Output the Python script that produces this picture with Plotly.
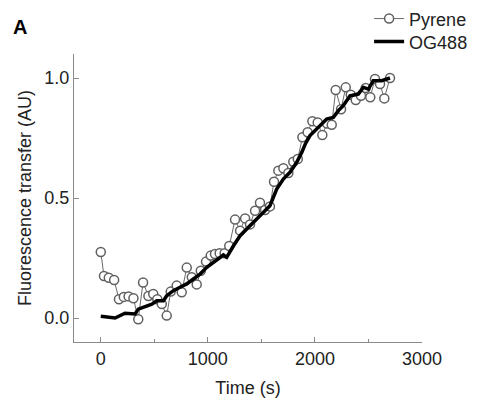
import plotly.graph_objects as go

# Pyrene (open circles with thin connecting line)
pyrene_t = [0, 30, 75, 125, 170, 215, 260, 305, 350, 395, 445, 490, 528, 570, 616, 653, 709, 756,
            803, 850, 896, 934, 983, 1027, 1067, 1110, 1157, 1200, 1254, 1301, 1348, 1394, 1441,
            1487, 1534, 1580, 1618, 1658, 1705, 1752, 1798, 1840, 1883, 1932, 1976, 2026, 2069,
            2113, 2157, 2194, 2244, 2288, 2335, 2381, 2430, 2474, 2517, 2561, 2608, 2648, 2701]
pyrene_v = [0.275, 0.175, 0.168, 0.158, 0.078, 0.088, 0.09, 0.082, -0.005, 0.148, 0.092, 0.1,
            0.078, 0.058, 0.01, 0.11, 0.135, 0.107, 0.21, 0.17, 0.14, 0.197, 0.235, 0.26, 0.267,
            0.27, 0.27, 0.30, 0.41, 0.364, 0.415, 0.39, 0.447, 0.48, 0.45, 0.465, 0.568, 0.614,
            0.624, 0.604, 0.651, 0.6625, 0.753, 0.774, 0.82, 0.815, 0.7625, 0.81, 0.805, 0.95,
            0.87, 0.961, 0.93, 0.908, 0.926, 0.958, 0.92, 0.996, 0.975, 0.915, 1.0]

# OG488 (thick black line)
og_t = [0, 87, 134, 226, 320, 350, 430, 477, 523, 585, 616, 678, 740, 803, 865, 927, 990, 1051,
        1114, 1145, 1176, 1207, 1238, 1301, 1394, 1487, 1580, 1643, 1705, 1767, 1830, 1877, 1910,
        1954, 2001, 2047, 2110, 2172, 2219, 2265, 2328, 2405, 2452, 2499, 2545, 2623, 2660, 2701]
og_v = [0.007, 0.003, 0.0, 0.02, 0.017, 0.037, 0.05, 0.058, 0.072, 0.072, 0.093, 0.114, 0.128,
        0.142, 0.1625, 0.183, 0.211, 0.232, 0.253, 0.2625, 0.253, 0.28, 0.30, 0.343, 0.385,
        0.426, 0.468, 0.5375, 0.579, 0.607, 0.649, 0.69, 0.725, 0.76, 0.78, 0.8, 0.829, 0.836,
        0.864, 0.885, 0.926, 0.933, 0.961, 0.954, 0.989, 0.989, 0.996, 1.0]

x_ticks = [0, 1000, 2000, 3000]
y_ticks = [0.0, 0.5, 1.0]
y_tick_labels = ["0.0", "0.5", "1.0"]

FONT = "Arial, Liberation Sans, sans-serif"
AXIS_COLOR = "#8a8a8a"
TEXT_COLOR = "#222222"

fig = go.Figure()
fig.add_trace(go.Scatter(
    x=pyrene_t, y=pyrene_v, name="Pyrene", mode="lines+markers",
    line=dict(color="#6a6a6a", width=1),
    marker=dict(symbol="circle", size=9, color="white", line=dict(color="#606060", width=1.5)),
    legend="legend", showlegend=True,
))
fig.add_trace(go.Scatter(
    x=og_t, y=og_v, name="OG488", mode="lines",
    line=dict(color="black", width=3.5),
    legend="legend2", showlegend=True,
))

fig.update_layout(
    width=477, height=402,
    showlegend=True,
    margin=dict(l=74, r=55, t=54, b=60, autoexpand=False),
    plot_bgcolor="white", paper_bgcolor="white",
    font=dict(family=FONT, size=18, color=TEXT_COLOR),
    legend=dict(x=0.848, y=1.122, xanchor="left", yanchor="middle", visible=True,
                bgcolor="rgba(0,0,0,0)", font=dict(size=18, color=TEXT_COLOR)),
    legend2=dict(x=0.848, y=1.042, xanchor="left", yanchor="middle", visible=True,
                 bgcolor="rgba(0,0,0,0)", font=dict(size=18, color=TEXT_COLOR)),
    xaxis=dict(
        range=[-250, 3000], tickvals=x_ticks, ticks="inside", ticklen=5, tickwidth=1,
        tickcolor=AXIS_COLOR, showline=True, linecolor=AXIS_COLOR, linewidth=1,
        showgrid=False, zeroline=False,
        minor=dict(dtick=500, tick0=0, ticks="inside", ticklen=3, tickcolor=AXIS_COLOR, showgrid=False),
        title=dict(text="Time (s)", standoff=13, font=dict(size=18)),
        tickfont=dict(size=18),
    ),
    yaxis=dict(
        range=[-0.1, 1.1], tickvals=y_ticks, ticktext=y_tick_labels, ticks="inside", ticklen=5,
        tickwidth=1, tickcolor=AXIS_COLOR, showline=True, linecolor=AXIS_COLOR, linewidth=1,
        showgrid=False, zeroline=False,
        title=dict(text="Fluorescence transfer (AU)", standoff=8, font=dict(size=18)),
        tickfont=dict(size=18),
    ),
    annotations=[dict(text="<b>A</b>", xref="paper", yref="paper", x=-0.18, y=1.095,
                      xanchor="left", yanchor="middle", showarrow=False,
                      font=dict(size=20, color="black", family=FONT))],
)

fig.write_html("out.html", config={"displayModeBar": False},
               post_script="document.body.style.margin='0px';")
